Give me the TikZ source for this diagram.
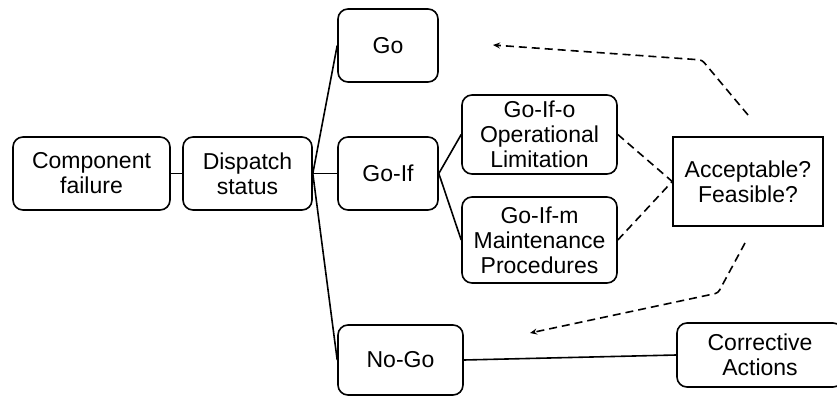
\documentclass[tikz,border=0pt]{standalone}
\usepackage{fontspec}
\setmainfont{Liberation Sans}
\usetikzlibrary{arrows.meta}
\tikzset{
  box/.style={draw, line width=1.6pt, rounded corners=10pt, align=center,
    inner sep=0pt, font=\fontsize{23}{25}\selectfont},
  sqbox/.style={draw, line width=1.6pt, align=center, inner sep=0pt,
    font=\fontsize{23}{25}\selectfont},
  link/.style={line width=1.6pt},
  feedback/.style={line width=1.6pt, dash pattern=on 8pt off 5pt},
  tip/.style={-{Stealth[length=7pt,width=6pt]}}
}
\begin{document}
\begin{tikzpicture}[x=1pt,y=-1pt]
\useasboundingbox (0,0) rectangle (837,396);
% decision tree boxes
\node[box, minimum width=157pt, minimum height=73pt] (comp) at (91.5,173.5) {Component\\failure};
\node[box, minimum width=129pt, minimum height=73pt] (disp) at (247.5,173.5) {Dispatch\\status};
\node[box, minimum width=100pt, minimum height=73pt] (go) at (388,45.5) {Go};
\node[box, minimum width=100pt, minimum height=73pt] (goif) at (388,173.5) {Go-If};
\node[box, minimum width=125pt, minimum height=70pt] (nogo) at (400.5,360) {No-Go};
\node[box, minimum width=155pt, minimum height=79pt] (goifo) at (539.5,134.5) {Go-If-o\\Operational\\Limitation};
\node[box, minimum width=155pt, minimum height=86pt] (goifm) at (539.5,240) {Go-If-m\\Maintenance\\Procedures};
\node[sqbox, minimum width=150pt, minimum height=89pt] (acc) at (748,181.5) {Acceptable?\\Feasible?};
\node[box, minimum width=166pt, minimum height=64pt] (corr) at (760,355) {Corrective\\Actions};
% solid links
\draw[link] (comp) -- (disp);
\draw[link] (disp.east) -- (go.west);
\draw[link] (disp.east) -- (goif.west);
\draw[link] (disp.east) -- (nogo.west);
\draw[link] (goif.east) -- (goifo.west);
\draw[link] (goif.east) -- (goifm.west);
\draw[link] (nogo.east) -- (corr.west);
% feedback paths
\draw[feedback] (goifo.east) -- (acc.west);
\draw[feedback] (goifm.east) -- (acc.west);
\coordinate (upstart) at (748,115);
\coordinate (upbend) at (702,60);
\coordinate (upend) at (493,45);
\coordinate (dnstart) at (745,243);
\coordinate (dnbend) at (718,293);
\coordinate (dnend) at (530,333);
\draw[feedback, tip, rounded corners=3pt] (upstart) -- (upbend) -- (upend);
\draw[feedback, tip, rounded corners=3pt] (dnstart) -- (dnbend) -- (dnend);
\end{tikzpicture}
\end{document}
